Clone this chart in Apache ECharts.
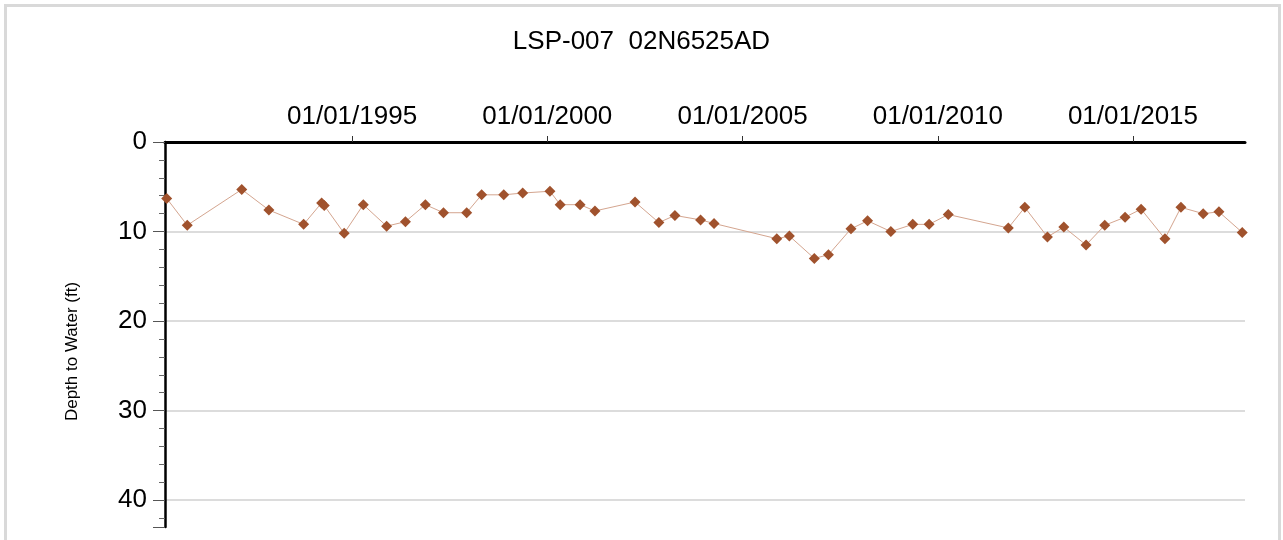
<!DOCTYPE html>
<html>
<head>
<meta charset="utf-8">
<title>LSP-007 02N6525AD</title>
<script src="https://cdn.jsdelivr.net/npm/echarts@6/dist/echarts.min.js"></script>
<style>
  html, body { margin: 0; padding: 0; background: #fff; }
  #main { width: 1283px; height: 540px; }
</style>
</head>
<body>
<div id="main"></div>
<script>
// measurement dates and depth to water (ft)
var dates = [
  '1990-04-03', '1990-10-12', '1992-03-05', '1992-11-14', '1993-10-05',
  '1994-03-22', '1994-04-16', '1994-10-19', '1995-04-16', '1995-11-20',
  '1996-05-14', '1996-11-17', '1997-05-05', '1997-12-08', '1998-04-27',
  '1998-11-20', '1999-05-16', '2000-01-26', '2000-05-01', '2000-11-03',
  '2001-03-22', '2002-04-01', '2002-11-10', '2003-04-09', '2003-12-05',
  '2004-04-09', '2005-11-17', '2006-03-15', '2006-11-03', '2007-03-15',
  '2007-10-12', '2008-03-15', '2008-10-19', '2009-05-12', '2009-10-12',
  '2010-04-09', '2011-10-23', '2012-03-25', '2012-10-23', '2013-03-25',
  '2013-10-19', '2014-04-12', '2014-10-19', '2015-03-18', '2015-10-27',
  '2016-03-25', '2016-10-19', '2017-03-15', '2017-10-19'
];
var depth = [
  6.3, 9.3, 5.3, 7.6, 9.2,
  6.8, 7.1, 10.2, 7.0, 9.4,
  8.9, 7.0, 7.9, 7.9, 5.9,
  5.9, 5.7, 5.5, 7.0, 7.0,
  7.7, 6.7, 9.0, 8.2, 8.7,
  9.1, 10.8, 10.5, 13.0, 12.6,
  9.7, 8.8, 10.0, 9.2, 9.2,
  8.1, 9.6, 7.3, 10.6, 9.5,
  11.5, 9.3, 8.4, 7.5, 10.8,
  7.3, 8.0, 7.8, 10.1
];
var tickYears = [1995, 2000, 2005, 2010, 2015];

function toTime(s) {
  var p = s.split('-');
  return Date.UTC(+p[0], +p[1] - 1, +p[2]);
}
function pad(n) { return n < 10 ? '0' + n : '' + n; }

var tickValues = tickYears.map(function (y) { return Date.UTC(y, 0, 1); });
var seriesData = [];
for (var i = 0; i < dates.length; i++) {
  seriesData.push([toTime(dates[i]), depth[i]]);
}

var chart = echarts.init(document.getElementById('main'));
var option = {
  backgroundColor: '#fff',
  animation: false,
  textStyle: { fontFamily: 'Liberation Sans, Arial, sans-serif' },
  title: {
    text: 'LSP-007  02N6525AD',
    left: 'center',
    top: 24,
    textStyle: { fontSize: 26, fontWeight: 'normal', color: '#000' }
  },
  graphic: [{
    type: 'rect',
    shape: { x: 5.5, y: 5.5, width: 1274, height: 600 },
    style: { fill: 'none', stroke: '#d9d9d9', lineWidth: 3 },
    silent: true
  }],
  grid: { left: 165, right: 38, top: 142, bottom: 13 },
  xAxis: {
    type: 'value',
    position: 'top',
    min: Date.UTC(1990, 2, 18),
    max: Date.UTC(2017, 10, 14),
    axisLine: { show: true, lineStyle: { color: '#000', width: 3 } },
    axisTick: {
      show: true,
      customValues: tickValues,
      length: 6,
      lineStyle: { color: '#333', width: 1 }
    },
    axisLabel: {
      customValues: tickValues,
      fontSize: 26,
      color: '#000',
      margin: 12,
      formatter: function (v) {
        var d = new Date(v);
        return pad(d.getUTCMonth() + 1) + '/' + pad(d.getUTCDate()) + '/' + d.getUTCFullYear();
      }
    },
    splitLine: { show: false }
  },
  yAxis: {
    type: 'value',
    inverse: true,
    min: 0,
    max: 43,
    interval: 10,
    name: 'Depth to Water (ft)',
    nameLocation: 'middle',
    nameGap: 84,
    nameTextStyle: { fontSize: 17, color: '#000', padding: [0, 34, 0, 0] },
    axisLine: { show: true, lineStyle: { color: '#000', width: 2.5 } },
    axisTick: { show: true, length: 12, lineStyle: { color: '#555', width: 1 } },
    minorTick: { show: true, splitNumber: 5, length: 6, lineStyle: { color: '#666', width: 1 } },
    axisLabel: { fontSize: 26, color: '#000', margin: 18, showMaxLabel: false },
    splitLine: { show: true, showMaxLine: false, lineStyle: { color: '#dcdcdc', width: 2 } }
  },
  series: [{
    type: 'line',
    data: seriesData,
    symbol: 'diamond',
    symbolSize: 11,
    showAllSymbol: true,
    itemStyle: { color: '#a0522d' },
    lineStyle: { color: '#d4a58f', width: 1 }
  }]
};
chart.setOption(option);
</script>
</body>
</html>
